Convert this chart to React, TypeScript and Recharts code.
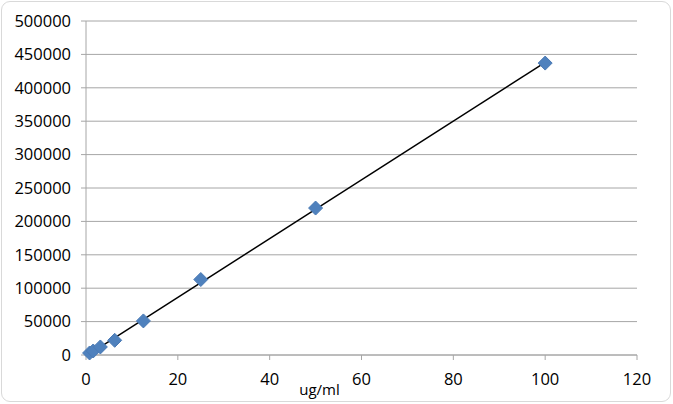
import React from "react";
import {
  ScatterChart,
  Scatter,
  XAxis,
  YAxis,
  CartesianGrid,
  Label,
} from "recharts";

const concentrations = [0.78, 1.5625, 3.125, 6.25, 12.5, 25, 50, 100];
const signals = [3000, 6000, 12000, 22000, 51000, 113000, 220000, 437000];
const trendX = [0.78, 100];
const trendY = [1800, 438000];
const xTicks = [0, 20, 40, 60, 80, 100, 120];
const yTicks = [0, 50000, 100000, 150000, 200000, 250000, 300000, 350000, 400000, 450000, 500000];

const points = concentrations.map((x, i) => ({ x, y: signals[i] }));
const trend = trendX.map((x, i) => ({ x, y: trendY[i] }));

const FONT = "'Open Sans', sans-serif";

const Diamond = (props: any) => {
  const { cx, cy } = props;
  if (cx == null || cy == null) return null;
  const r = 7;
  return (
    <polygon
      points={`${cx},${cy - r} ${cx + r},${cy} ${cx},${cy + r} ${cx - r},${cy}`}
      fill="#4f81bd"
      stroke="#4a7ab5"
      strokeWidth={1}
    />
  );
};

export default function App() {
  return (
    <div style={{ position: "absolute", left: 0, top: 0, width: 673, height: 404, background: "#fff" }}>
      <div
        style={{
          position: "absolute",
          left: 1,
          top: 1,
          width: 668,
          height: 399,
          border: "1px solid #d9d9d9",
          borderRadius: 9,
        }}
      />
      <ScatterChart
        width={673}
        height={404}
        margin={{ top: 21, right: 36, bottom: 18, left: 0 }}
        style={{ position: "absolute", left: 0, top: 0 }}
      >
        <CartesianGrid vertical={false} stroke="#a6a6a6" strokeWidth={1} />
        <XAxis
          type="number"
          dataKey="x"
          domain={[0, 120]}
          ticks={xTicks}
          interval={0}
          height={31}
          stroke="#a6a6a6"
          tickSize={5}
          tickMargin={13}
          tick={{ fill: "#000", fontSize: 16.5, fontFamily: FONT }}
        >
          <Label
            value="ug/ml"
            position="insideBottom"
            offset={-9}
            dx={-42}
            style={{ fill: "#000", fontSize: 15, fontFamily: FONT }}
          />
        </XAxis>
        <YAxis
          type="number"
          dataKey="y"
          domain={[0, 500000]}
          ticks={yTicks}
          interval={0}
          width={86}
          stroke="#a6a6a6"
          tickSize={5}
          tickMargin={10}
          tick={{ fill: "#000", fontSize: 16.5, fontFamily: FONT }}
        />
        <Scatter
          data={trend}
          line={{ stroke: "#000", strokeWidth: 1.5 }}
          shape={() => null}
          isAnimationActive={false}
        />
        <Scatter data={points} shape={Diamond} isAnimationActive={false} />
      </ScatterChart>
    </div>
  );
}
